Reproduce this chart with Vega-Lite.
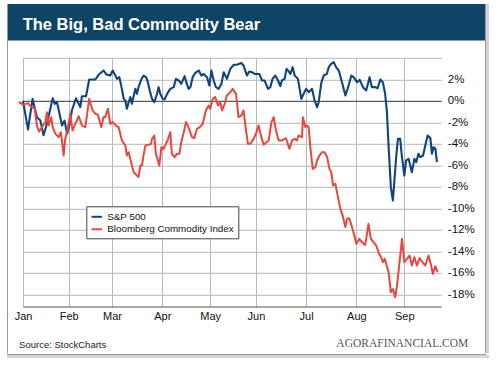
{
  "$schema": "https://vega.github.io/schema/vega-lite/v6.json",
  "background": "white",
  "padding": {"left": 7, "top": 4, "right": 11, "bottom": 5},
  "config": {"font": "Liberation Sans", "view": {"stroke": null}, "axis": {"labelOverlap": false}},
  "datasets": {
    "blank": [{}],
    "sp": [
      {"d":0,"v":0},{"d":2.2,"v":-2.67},{"d":4.2,"v":0.18},{"d":6.1,"v":-1.52},{"d":7.6,"v":-1.83},{"d":9,"v":-3.2},{"d":10.5,"v":-2.14},{"d":13,"v":0.24},{"d":13.9,"v":-0.28},{"d":14.9,"v":-0.13},{"d":17.1,"v":-2.3},{"d":18.2,"v":-1.84},{"d":19.3,"v":-3.07},{"d":20.3,"v":-2.3},{"d":21.4,"v":-0.9},{"d":23.2,"v":0.24},{"d":25.1,"v":-0.59},{"d":25.8,"v":0.43},{"d":27.6,"v":0.43},{"d":29,"v":1.98},{"d":31.7,"v":1.98},{"d":33.1,"v":2.42},{"d":35.3,"v":2.82},{"d":36.5,"v":2.45},{"d":38.2,"v":2.35},{"d":39.3,"v":2.82},{"d":41.2,"v":2.04},{"d":42.2,"v":2.2},{"d":43.3,"v":1.11},{"d":44.1,"v":0.18},{"d":44.8,"v":0.03},{"d":45.5,"v":-0.74},{"d":46.3,"v":-0.13},{"d":47,"v":0.34},{"d":47.7,"v":-0.28},{"d":48.5,"v":0.49},{"d":49.2,"v":1.11},{"d":49.9,"v":0.65},{"d":50.6,"v":1.27},{"d":51.8,"v":1.98},{"d":52.8,"v":2.35},{"d":53.9,"v":2.2},{"d":54.7,"v":1.73},{"d":55.5,"v":0.96},{"d":56.5,"v":0.18},{"d":57.5,"v":-0.13},{"d":58.7,"v":0.65},{"d":59.4,"v":1.27},{"d":60.1,"v":0.65},{"d":61.2,"v":0.18},{"d":62,"v":0.12},{"d":63.1,"v":0.65},{"d":64.5,"v":1.11},{"d":66,"v":1.27},{"d":67,"v":2.04},{"d":68.2,"v":1.89},{"d":69.3,"v":1.58},{"d":70.8,"v":2.29},{"d":71.5,"v":1.73},{"d":72.5,"v":1.11},{"d":73.3,"v":1.27},{"d":74.3,"v":2.2},{"d":75.5,"v":2.6},{"d":77,"v":2.82},{"d":78.1,"v":2.35},{"d":79.1,"v":2.5},{"d":80.6,"v":2.2},{"d":81.6,"v":1.42},{"d":82.5,"v":2.82},{"d":83.5,"v":1.89},{"d":84.5,"v":1.27},{"d":85.7,"v":1.11},{"d":86.9,"v":1.58},{"d":87.9,"v":2.66},{"d":89.3,"v":2.04},{"d":90.8,"v":2.97},{"d":92.3,"v":3.35},{"d":93.7,"v":3.35},{"d":95.6,"v":3.53},{"d":96.6,"v":3.28},{"d":98.1,"v":2.35},{"d":99.1,"v":2.73},{"d":100.3,"v":2.66},{"d":101.5,"v":2.5},{"d":103.5,"v":2.5},{"d":104.7,"v":1.89},{"d":105.8,"v":1.89},{"d":107.3,"v":1.11},{"d":108.3,"v":1.27},{"d":109.3,"v":2.04},{"d":110.5,"v":2.35},{"d":111.7,"v":1.89},{"d":112.7,"v":1.36},{"d":113.4,"v":1.89},{"d":114.6,"v":2.04},{"d":115.4,"v":2.97},{"d":116.1,"v":2.82},{"d":117.1,"v":2.5},{"d":118.1,"v":3.13},{"d":119,"v":2.35},{"d":120.4,"v":2.04},{"d":121.9,"v":0.18},{"d":122.9,"v":0.65},{"d":124,"v":1.11},{"d":125.1,"v":0.8},{"d":126.6,"v":1.11},{"d":127.7,"v":0.03},{"d":128.8,"v":-0.59},{"d":129.5,"v":-0.13},{"d":130.7,"v":1.73},{"d":131.7,"v":2.35},{"d":133.1,"v":2.5},{"d":133.9,"v":3.13},{"d":135,"v":3.44},{"d":136.1,"v":3.6},{"d":137.1,"v":3.13},{"d":138.3,"v":2.82},{"d":139.7,"v":1.73},{"d":141.2,"v":0.49},{"d":142.4,"v":1.27},{"d":143.8,"v":2.35},{"d":144.8,"v":2.2},{"d":146.3,"v":1.73},{"d":147.5,"v":1.95},{"d":148.9,"v":1.27},{"d":150.3,"v":0.96},{"d":151.8,"v":2.2},{"d":152.8,"v":1.27},{"d":154.3,"v":1.27},{"d":155.3,"v":1.17},{"d":156.5,"v":1.98},{"d":157.6,"v":1.73},{"d":158.6,"v":0.65},{"d":159.4,"v":-1.06},{"d":160.1,"v":-4.16},{"d":160.5,"v":-5.7},{"d":161.1,"v":-8.03},{"d":162,"v":-9.27},{"d":162.6,"v":-7.57},{"d":163.5,"v":-5.09},{"d":164.2,"v":-3.54},{"d":165.2,"v":-3.54},{"d":165.9,"v":-5.09},{"d":167,"v":-6.95},{"d":167.8,"v":-5.55},{"d":168.9,"v":-5.4},{"d":169.6,"v":-6.02},{"d":170.3,"v":-6.64},{"d":171.4,"v":-5.4},{"d":172.2,"v":-5.71},{"d":173.2,"v":-4.93},{"d":174,"v":-5.24},{"d":175.2,"v":-5.09},{"d":176.2,"v":-4.16},{"d":177.2,"v":-3.23},{"d":178.4,"v":-3.47},{"d":179.1,"v":-4.93},{"d":179.8,"v":-4.31},{"d":180.6,"v":-4.47},{"d":181.3,"v":-5.7}
    ],
    "bc": [
      {"d":-1.8,"v":-0.1},{"d":0,"v":-0.38},{"d":2.2,"v":-0.22},{"d":3.6,"v":-0.59},{"d":5.1,"v":-0.69},{"d":6.1,"v":-2.3},{"d":7.1,"v":-2.86},{"d":8.6,"v":-2.36},{"d":9.8,"v":-1.98},{"d":10.5,"v":-1.06},{"d":11.2,"v":-2.3},{"d":12.4,"v":-1.52},{"d":13,"v":-2.45},{"d":14.2,"v":-3.07},{"d":15.6,"v":-3.38},{"d":16.6,"v":-2.92},{"d":17.8,"v":-5.08},{"d":18.5,"v":-3.54},{"d":19.3,"v":-2.92},{"d":20.7,"v":-1.21},{"d":21.7,"v":-2.76},{"d":22.9,"v":-2.14},{"d":24.4,"v":-1.43},{"d":25.8,"v":-2.3},{"d":27.3,"v":-2.45},{"d":29,"v":0.18},{"d":30.5,"v":-0.9},{"d":31.7,"v":-1.21},{"d":32.8,"v":-1.3},{"d":34.3,"v":-2.45},{"d":35.3,"v":-1.5},{"d":36,"v":-1.52},{"d":37.2,"v":-0.74},{"d":38.2,"v":-2.14},{"d":39.3,"v":-1.98},{"d":40.7,"v":-2.3},{"d":41.9,"v":-2.45},{"d":43.3,"v":-3.69},{"d":44.8,"v":-4.15},{"d":45.5,"v":-5.08},{"d":46.3,"v":-4.78},{"d":47,"v":-5.4},{"d":47.7,"v":-6.02},{"d":48.5,"v":-6.64},{"d":49.9,"v":-6.95},{"d":50.6,"v":-7.1},{"d":51.4,"v":-6.02},{"d":52.1,"v":-6.02},{"d":52.8,"v":-5.08},{"d":53.6,"v":-4.15},{"d":55,"v":-4.09},{"d":56.1,"v":-4.0},{"d":56.5,"v":-3.54},{"d":57.5,"v":-3.23},{"d":58.2,"v":-4.93},{"d":59.7,"v":-6.02},{"d":60.6,"v":-4.31},{"d":61.6,"v":-4.47},{"d":62.3,"v":-4.15},{"d":63.3,"v":-3.69},{"d":64.5,"v":-2.92},{"d":65.2,"v":-4.93},{"d":66.4,"v":-5.24},{"d":67.4,"v":-4.93},{"d":68.5,"v":-4.93},{"d":69.3,"v":-3.85},{"d":70.4,"v":-2.92},{"d":71.4,"v":-1.98},{"d":72.5,"v":-2.45},{"d":74,"v":-3.38},{"d":75,"v":-3.48},{"d":76.2,"v":-2.6},{"d":77.4,"v":-2.45},{"d":78.7,"v":-2.14},{"d":80.1,"v":-0.9},{"d":81.3,"v":-0.44},{"d":82,"v":-0.74},{"d":83.1,"v":0.18},{"d":84.2,"v":0.34},{"d":85.4,"v":-0.44},{"d":86.4,"v":-0.13},{"d":87.2,"v":-0.9},{"d":88.3,"v":-0.28},{"d":89.3,"v":0.49},{"d":90.8,"v":0.8},{"d":91.8,"v":1.11},{"d":93.3,"v":0.65},{"d":94.4,"v":-1.52},{"d":95.6,"v":-1.37},{"d":96.6,"v":-0.9},{"d":97.4,"v":-2.3},{"d":98.5,"v":-4.0},{"d":99.6,"v":-4.0},{"d":101,"v":-3.54},{"d":102,"v":-3.07},{"d":103.2,"v":-2.3},{"d":104.4,"v":-3.38},{"d":105.4,"v":-4.09},{"d":106.6,"v":-3.85},{"d":107.6,"v":-3.69},{"d":108.8,"v":-1.98},{"d":109.8,"v":-1.52},{"d":110.8,"v":-2.76},{"d":112,"v":-3.69},{"d":113.4,"v":-3.69},{"d":115.2,"v":-3.48},{"d":116.7,"v":-4.47},{"d":117.8,"v":-3.69},{"d":119,"v":-3.54},{"d":120,"v":-3.69},{"d":120.7,"v":-3.23},{"d":122.2,"v":-3.38},{"d":122.6,"v":-1.52},{"d":123.7,"v":-2.45},{"d":124.4,"v":-2.3},{"d":125.1,"v":-2.45},{"d":125.9,"v":-4.47},{"d":126.9,"v":-6.33},{"d":128,"v":-6.17},{"d":128.8,"v":-5.55},{"d":129.8,"v":-5.09},{"d":131,"v":-4.78},{"d":132.1,"v":-4.78},{"d":133.2,"v":-5.24},{"d":134.2,"v":-6.33},{"d":135,"v":-6.64},{"d":135.8,"v":-7.88},{"d":136.8,"v":-7.72},{"d":137.8,"v":-8.8},{"d":139,"v":-10.05},{"d":140,"v":-10.67},{"d":141.2,"v":-11.75},{"d":141.9,"v":-10.98},{"d":142.9,"v":-10.92},{"d":144.1,"v":-11.75},{"d":145.1,"v":-12.53},{"d":146,"v":-13.3},{"d":147.3,"v":-12.84},{"d":148.5,"v":-13.15},{"d":149.9,"v":-13.4},{"d":151.3,"v":-11.44},{"d":152.4,"v":-12.84},{"d":153.5,"v":-13.15},{"d":154.7,"v":-13.46},{"d":155.7,"v":-14.08},{"d":156.8,"v":-14.55},{"d":157.6,"v":-15.01},{"d":158.4,"v":-14.7},{"d":159.1,"v":-15.17},{"d":160.1,"v":-15.94},{"d":161.1,"v":-17.8},{"d":162,"v":-17.5},{"d":163,"v":-18.27},{"d":163.8,"v":-17.18},{"d":164.9,"v":-15.01},{"d":166,"v":-12.84},{"d":167,"v":-15.01},{"d":168.1,"v":-14.7},{"d":169.3,"v":-14.39},{"d":170.3,"v":-15.32},{"d":171.4,"v":-14.55},{"d":172.5,"v":-15.32},{"d":173.7,"v":-14.63},{"d":174.7,"v":-14.94},{"d":176.2,"v":-15.32},{"d":177.6,"v":-14.39},{"d":178.6,"v":-15.17},{"d":179.5,"v":-16.1},{"d":180.6,"v":-15.39},{"d":181.6,"v":-15.94}
    ]
  },
  "bounds": "full",
  "spacing": 0,
  "resolve": {"scale": {"color": "independent"}, "legend": {"color": "independent"}},
  "vconcat": [
    {
      "bounds": "full",
      "spacing": 0,
      "resolve": {"scale": {"color": "independent"}, "legend": {"color": "independent"}},
      "hconcat": [
        {"width": 1, "height": 349.3, "view": {"fill": "#999999", "stroke": null}, "data": {"name": "blank"}, "mark": {"type": "point", "opacity": 0, "size": 0, "strokeWidth": 0, "filled": true}, "encoding": {}},
        {
          "bounds": "flush",
          "spacing": 16.8,
          "resolve": {"scale": {"color": "independent"}, "legend": {"color": "independent"}},
          "vconcat": [
            {
              "width": 477,
              "height": 36.5,
              "view": {"fill": "#0e4566", "stroke": null},
              "title": {"text": "The Big, Bad Commodity Bear", "orient": "bottom", "anchor": "start", "frame": "group", "dx": 14.7, "offset": -10.7, "baseline": "alphabetic", "color": "#ffffff", "font": "Liberation Sans", "fontSize": 16.5, "fontWeight": "bold"},
              "data": {"name": "blank"},
              "mark": {"type": "point", "opacity": 0, "size": 0, "strokeWidth": 0, "filled": true},
              "encoding": {}
            },
            {
              "bounds": "flush",
              "spacing": 0,
              "resolve": {"scale": {"color": "independent"}, "legend": {"color": "independent"}},
              "hconcat": [
                {"width": 14.7, "height": 248.7, "data": {"name": "blank"}, "mark": {"type": "point", "opacity": 0, "size": 0, "strokeWidth": 0, "filled": true}, "encoding": {}},
                {
                  "width": 418.3,
                  "height": 248.7,
                  "title": {"text": "AGORAFINANCIAL.COM", "orient": "bottom", "anchor": "end", "frame": "group", "dx": 27, "offset": -2, "baseline": "alphabetic", "color": "#555555", "font": "Liberation Serif", "fontSize": 11.5, "fontWeight": "normal"},
                  "encoding": {
                    "x": {"field": "d", "type": "quantitative", "scale": {"domain": [0, 183.2], "nice": false, "zero": false},
                      "axis": {"orient": "bottom", "values": [0, 20, 39, 61, 82, 102, 124, 146, 167],
                        "labelExpr": "['Jan','Feb','Mar','Apr','May','Jun','Jul','Aug','Sep'][indexof([0,20,39,61,82,102,124,146,167], datum.value)]",
                        "labelFontSize": 11, "labelColor": "#111111", "labelPadding": 4, "labelFlush": false, "labelOverlap": false, "labelBound": false,
                        "ticks": false, "domain": true, "domainColor": "#555555", "domainWidth": 1,
                        "grid": true, "gridColor": "#b8b8b8", "gridWidth": 1,
                        "title": "Source: StockCharts", "titleX": -4.4, "titleY": 40.7, "titleAlign": "left", "titleAnchor": "start", "titleBaseline": "alphabetic", "titleFontSize": 9.5, "titleFontWeight": "normal", "titleColor": "#222222", "titleFont": "Liberation Sans"}},
                    "y": {"field": "v", "type": "quantitative", "scale": {"domain": [-19.13, 4], "nice": false, "zero": false},
                      "axis": {"orient": "right", "values": [-18, -16, -14, -12, -10, -8, -6, -4, -2, 0, 2, 4], "tickCount": 12,
                        "labelExpr": "datum.value == 4 ? '' : datum.value + '%'",
                        "labelFontSize": 11.5, "labelColor": "#111111", "labelPadding": 6, "labelOverlap": false, "labelSeparation": 0, "labelBound": false, "labelFlush": false, "ticks": false, "domain": false,
                        "grid": true, "gridColor": {"condition": {"test": "datum.value === 0", "value": "#333333"}, "value": "#b8b8b8"}, "gridWidth": 1,
                        "title": null}}
                  },
                  "layer": [
                    {
                      "data": {"name": "sp"},
                      "mark": {"type": "line", "strokeWidth": 2.1, "strokeJoin": "round"},
                      "encoding": {
                        "color": {"datum": "S&P 500", "type": "nominal",
                          "scale": {"domain": ["S&P 500", "Bloomberg Commodity Index"], "range": ["#10457c", "#e8473d"]},
                          "legend": {"orient": "none", "legendX": 63.3, "legendY": 148.5, "title": null, "fillColor": "#ffffff", "strokeColor": "#444444", "padding": 4, "cornerRadius": 0, "symbolType": "stroke", "symbolStrokeWidth": 2, "symbolSize": 110, "labelFontSize": 9.8, "labelColor": "#111111", "rowPadding": 0.5, "labelOffset": 4}}
                      }
                    },
                    {
                      "data": {"name": "bc"},
                      "mark": {"type": "line", "strokeWidth": 2, "strokeJoin": "round"},
                      "encoding": {
                        "color": {"datum": "Bloomberg Commodity Index", "type": "nominal"}
                      }
                    }
                  ]
                }
              ]
            }
          ]
        },
        {"width": 1, "height": 349.3, "view": {"fill": "#999999", "stroke": null}, "data": {"name": "blank"}, "mark": {"type": "point", "opacity": 0, "size": 0, "strokeWidth": 0, "filled": true}, "encoding": {}},
        {"width": 3, "height": 349.3, "view": {"fill": "#d4d4d4", "stroke": null}, "data": {"name": "blank"}, "mark": {"type": "point", "opacity": 0, "size": 0, "strokeWidth": 0, "filled": true}, "encoding": {}}
      ]
    },
    {"width": 479, "height": 1, "view": {"fill": "#999999", "stroke": null}, "data": {"name": "blank"}, "mark": {"type": "point", "opacity": 0, "size": 0, "strokeWidth": 0, "filled": true}, "encoding": {}},
    {"width": 482, "height": 3, "view": {"fill": "#d4d4d4", "stroke": null}, "data": {"name": "blank"}, "mark": {"type": "point", "opacity": 0, "size": 0, "strokeWidth": 0, "filled": true}, "encoding": {}}
  ]
}
